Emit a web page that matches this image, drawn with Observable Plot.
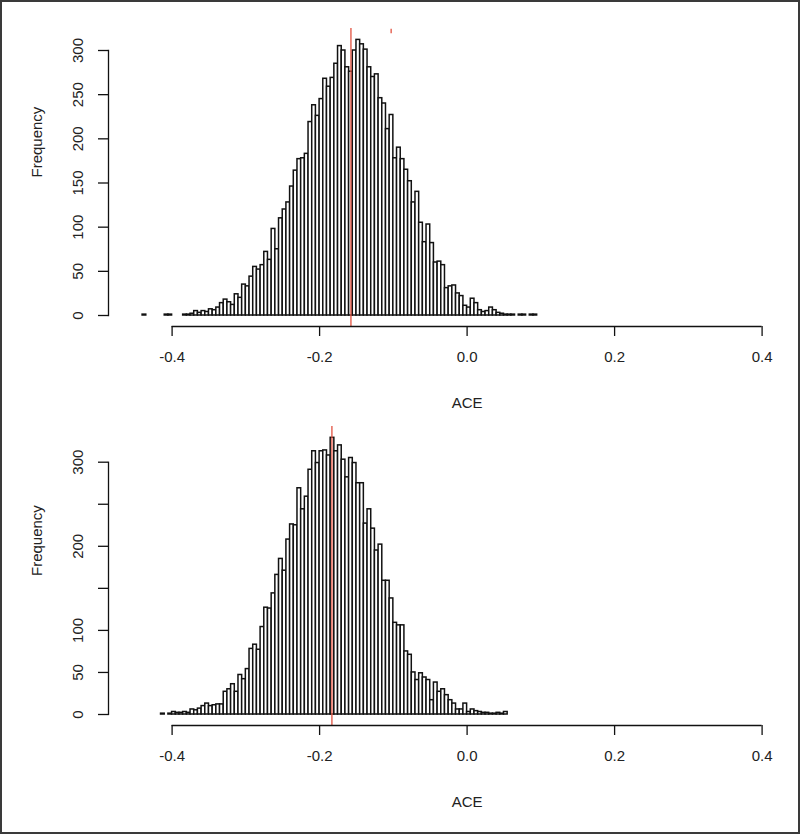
<!DOCTYPE html>
<html><head><meta charset="utf-8">
<script src="https://cdn.jsdelivr.net/npm/d3@7"></script>
<script src="https://cdn.jsdelivr.net/npm/@observablehq/plot@0.6"></script>
<style>
body{margin:0;background:#fff;}
#top,#bottom,#border{position:absolute;left:0;}
#top{top:0;}
#bottom{top:400px;}
#border{top:0;width:800px;height:834px;box-sizing:border-box;border:2px solid #3a3a3a;pointer-events:none;}
svg{overflow:visible;}
</style></head><body>
<div id="top"></div><div id="bottom"></div><div id="border"></div>
<script>
// ---- data ----
const binWidth = 0.005;
const topBinStart = -0.44;
const topCounts = [
  1,0,0,0,0,0,1,1,0,0,0,1,1,
  2,5,3,5,4,7,6,9,14,18,15,12,24,20,35,33,44,55,52,57,72,63,98,75,110,120,128,146,164,177,
  178,183,219,238,226,245,268,259,269,285,305,300,281,
  276,300,312,307,301,281,270,273,246,240,211,227,178,190,177,165,152,128,140,105,
  83,103,82,60,61,57,31,33,34,25,22,11,9,19,14,6,4,5,9,6,3,2,1,
  1,1,0,1,1,0,1,1
];
const topMean = -0.1575;
const topMarkX = -0.103;
const topMarkSpan = [319, 324];

const bottomBinStart = -0.415;
const bottomCounts = [
  1,0,1,3,2,2,3,2,6,5,
  7,10,13,10,11,12,12,27,30,36,
  27,47,42,54,78,83,77,104,127,126,
  144,166,185,171,208,226,225,269,244,259,
  291,313,299,313,314,308,329,313,320,303,
  282,305,299,275,275,227,244,221,195,202,
  159,159,138,109,106,106,75,71,50,41,
  49,44,41,17,38,27,30,23,17,13,
  6,6,13,3,6,4,3,2,2,1,
  1,2,1,3
];
const bottomMean = -0.1833;

const xTicks = [-0.4, -0.2, 0, 0.2, 0.4];
const xTickLabels = ["-0.4", "-0.2", "0.0", "0.2", "0.4"];
const topYTicks = [0, 50, 100, 150, 200, 250, 300];
const topYLabels = ["0", "50", "100", "150", "200", "250", "300"];
const bottomYTicks = [0, 50, 100, 150, 200, 250, 300];
const bottomYLabels = ["0", "50", "100", "", "200", "", "300"];
const xLabel = "ACE";
const yLabel = "Frequency";

// ---- drawing ----
const RED = "#e2513f";
const INK = "#111";

function panel(cfg) {
  const bins = cfg.counts.map((c, i) => ({
    x1: cfg.binStart + i * binWidth,
    x2: cfg.binStart + (i + 1) * binWidth,
    count: c
  }));
  const xFmt = new Map(xTicks.map((t, i) => [t, xTickLabels[i]]));
  const yFmt = new Map(cfg.yTicks.map((t, i) => [t, cfg.yLabels[i]]));
  const marks = [
    Plot.rectY(bins, {x1: "x1", x2: "x2", y: "count", fill: "white", stroke: INK, strokeWidth: 1.5}),
    Plot.ruleX([cfg.mean], {stroke: RED, strokeWidth: 1.3}),
    Plot.ruleY([0], {x1: xTicks[0], x2: xTicks[xTicks.length - 1], dy: cfg.frameBottom - cfg.yZero, stroke: INK, strokeWidth: 1.3}),
    Plot.frame({anchor: "left", insetTop: cfg.y300 - cfg.frameTop, insetBottom: cfg.frameBottom - cfg.yZero, stroke: INK, strokeWidth: 1.3}),
    Plot.axisX({ticks: xTicks, label: null, tickSize: 10, tickPadding: 15, tickFormat: d => xFmt.get(d), stroke: INK, strokeWidth: 1.3}),
    Plot.axisY({ticks: cfg.yTicks, label: null, tickSize: 10, tickPadding: 16, tickRotate: -90, tickFormat: d => yFmt.get(d), stroke: INK, strokeWidth: 1.3}),
    Plot.text([xLabel], {x: xTicks[Math.floor(xTicks.length / 2)], frameAnchor: "bottom", dy: 77, lineAnchor: "middle"}),
    Plot.text([yLabel], {frameAnchor: "left", dx: -71, rotate: -90, lineAnchor: "middle"})
  ];
  if (cfg.extra) marks.push(...cfg.extra);
  return Plot.plot({
    width: 800,
    height: cfg.H,
    marginLeft: 108,
    marginRight: 38,
    marginTop: cfg.frameTop,
    marginBottom: cfg.H - cfg.frameBottom,
    x: {domain: [xTicks[0], xTicks[xTicks.length - 1]], range: [171.6, 761.6], label: null},
    y: {domain: [cfg.yTicks[0], cfg.yTicks[cfg.yTicks.length - 1]], range: [cfg.yZero, cfg.y300], label: null},
    style: {fontFamily: "'Liberation Sans', Arial, sans-serif", fontSize: "15px", color: "#222", background: "transparent", overflow: "visible"},
    marks
  });
}

document.getElementById("top").append(panel({
  counts: topCounts, binStart: topBinStart, mean: topMean,
  yTicks: topYTicks, yLabels: topYLabels,
  H: 400, yZero: 315, y300: 50, frameTop: 28, frameBottom: 326,
  extra: [Plot.ruleX([topMarkX], {y1: topMarkSpan[0], y2: topMarkSpan[1], stroke: RED, strokeWidth: 1.3})]
}));
document.getElementById("bottom").append(panel({
  counts: bottomCounts, binStart: bottomBinStart, mean: bottomMean,
  yTicks: bottomYTicks, yLabels: bottomYLabels,
  H: 434, yZero: 314, y300: 61.7, frameTop: 26, frameBottom: 325
}));
</script>
</body></html>
